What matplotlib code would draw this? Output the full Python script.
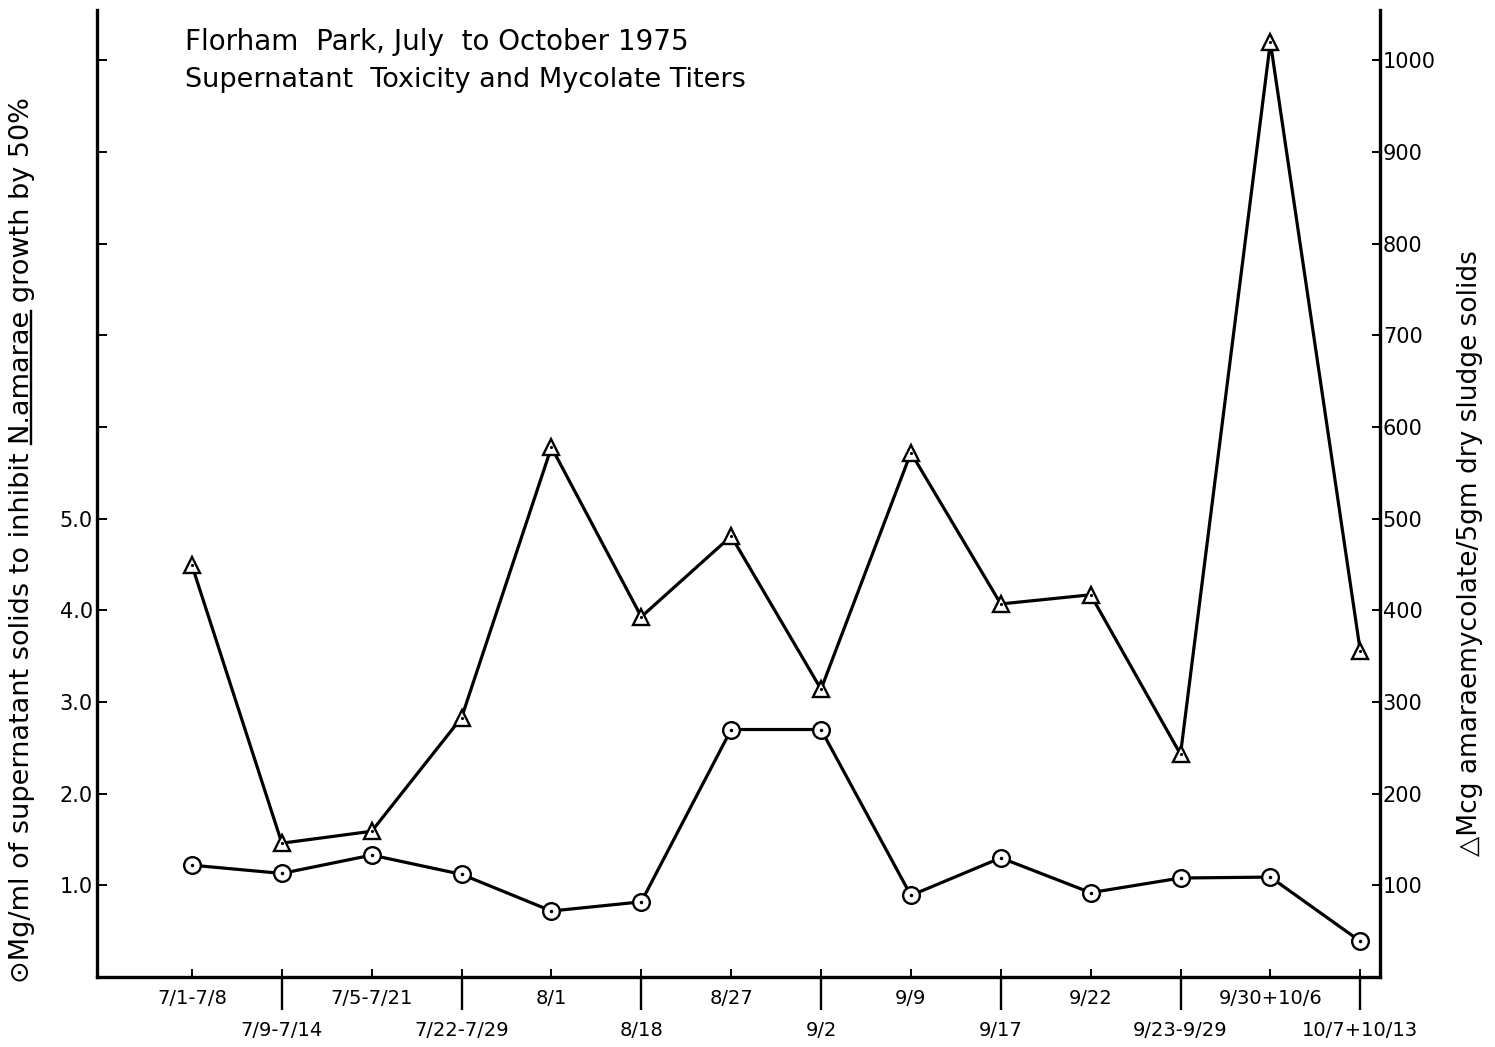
import matplotlib
matplotlib.use("Agg")
import matplotlib.pyplot as plt
from matplotlib.ticker import FixedLocator, FixedFormatter
from matplotlib.lines import Line2D

# sampling periods along the bottom axis
periods = ['7/1-7/8', '7/9-7/14', '7/5-7/21', '7/22-7/29', '8/1', '8/18', '8/27',
           '9/2', '9/9', '9/17', '9/22', '9/23-9/29', '9/30+10/6', '10/7+10/13']

# circles: Mg/ml of supernatant solids to inhibit growth by 50% (left axis)
toxicity = [1.22, 1.13, 1.33, 1.12, 0.72, 0.82, 2.70, 2.70, 0.89, 1.30, 0.92, 1.08, 1.09, 0.39]

# triangles: Mcg amaraemycolate / 5gm dry sludge solids (right axis)
mycolate = [449, 146, 159, 283, 578, 393, 481, 314, 572, 407, 417, 243, 1020, 356]

left_ticks = [1, 2, 3, 4, 5, 6, 7, 8, 9, 10]
left_labels = ['1.0', '2.0', '3.0', '4.0', '5.0', '', '', '', '', '']
right_ticks = [100, 200, 300, 400, 500, 600, 700, 800, 900, 1000]

plt.rcParams['font.family'] = ['DejaVu Sans']

W, H = 1495, 1047
fig = plt.figure(figsize=(W / 100, H / 100), dpi=100)
ax = fig.add_axes([97 / W, 1 - 977 / H, (1380 - 97) / W, (977 - 10) / H])
ax2 = ax.twinx()

x = list(range(len(periods)))
lw = 2.3

ax.plot(x, toxicity, color='black', lw=lw, marker='o', ms=12, mfc='white',
        mec='black', mew=1.7, zorder=3)
ax.plot(x, toxicity, ls='', marker='.', ms=3, color='black', zorder=4)

ax2.plot(x, mycolate, color='black', lw=lw, marker='^', ms=12, mfc='white',
         mec='black', mew=1.7, zorder=3)
ax2.plot(x, mycolate, ls='', marker='.', ms=2.5, color='black', zorder=4)

ax.set_xlim(-1.057, 13.22)
ax.set_ylim(0, 10.55)
ax2.set_ylim(0, 1055)

for a in (ax, ax2):
    a.spines['top'].set_visible(False)
    for s in a.spines.values():
        s.set_linewidth(2.4)
ax.spines['right'].set_visible(False)
ax2.spines['left'].set_visible(False)
ax2.spines['bottom'].set_visible(False)

# left axis
ax.yaxis.set_major_locator(FixedLocator(left_ticks))
ax.yaxis.set_major_formatter(FixedFormatter(left_labels))
ax.tick_params(axis='y', direction='in', length=7, width=1.4, pad=3, labelsize=15)

# right axis
ax2.yaxis.set_major_locator(FixedLocator(right_ticks))
ax2.tick_params(axis='y', direction='in', length=6, width=1.4, pad=2, labelsize=15)

# bottom axis: short inner ticks everywhere, long outer ticks between, staggered labels
upper = [p if i % 2 == 0 else '' for i, p in enumerate(periods)]
lower = [p for i, p in enumerate(periods) if i % 2 == 1]
ax.xaxis.remove_overlapping_locs = False
ax.xaxis.set_major_locator(FixedLocator(x))
ax.xaxis.set_major_formatter(FixedFormatter(upper))
ax.xaxis.set_minor_locator(FixedLocator(x[1::2]))
ax.xaxis.set_minor_formatter(FixedFormatter(lower))
ax.tick_params(axis='x', which='major', direction='in', length=6, width=1.4,
               pad=9, labelsize=14)
ax.tick_params(axis='x', which='minor', direction='out', length=24, width=1.7,
               pad=8, labelsize=14)

fig.text(185 / W, 1 - 42 / H, 'Florham  Park, July  to October 1975',
         fontsize=20, va='center', ha='left')
fig.text(185 / W, 1 - 80 / H, 'Supernatant  Toxicity and Mycolate Titers',
         fontsize=19.5, va='center', ha='left')

lab_size = 19.5
pre = '\u2299Mg/ml of supernatant solids to inhibit '
species = 'N.amarae'
post = ' growth by 50%'
ylab = fig.text(22 / W, 1 - 540 / H, pre + species + post,
                rotation=90, fontsize=lab_size, va='center', ha='center')
fig.text(1470 / W, 1 - 553 / H,
         '\u25b3Mcg amaraemycolate/5gm dry sludge solids',
         rotation=90, fontsize=19, va='center', ha='center')

# underline the species name in the rotated left label
fig.canvas.draw()
r = fig.canvas.get_renderer()
bb = ylab.get_window_extent(r)


def text_width(s):
    t = fig.text(0, 0, s, fontsize=lab_size)
    w = t.get_window_extent(r).width
    t.remove()
    return w


w_pre = text_width(pre)
w_sp = text_width(species)
y_start = bb.y0 + w_pre
ux = bb.x1 - 4
fig.add_artist(Line2D([ux, ux], [y_start, y_start + w_sp], color='black', lw=1.7,
                      transform=None))

fig.savefig('out.png', dpi=100)
